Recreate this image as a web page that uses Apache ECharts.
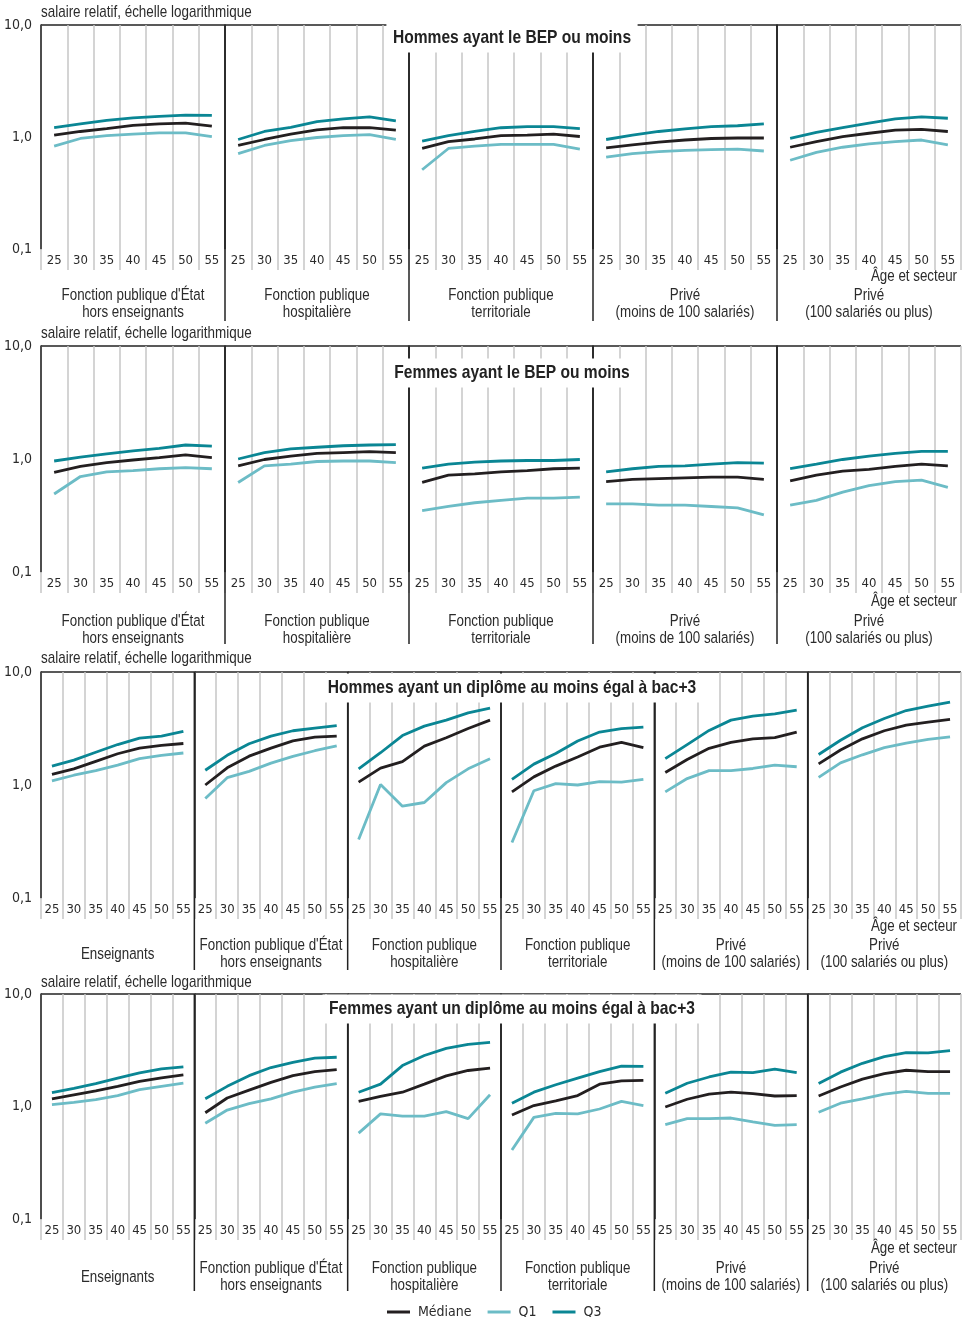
<!DOCTYPE html>
<html><head><meta charset="utf-8">
<script src="https://cdn.jsdelivr.net/npm/echarts@6/dist/echarts.min.js"></script>
<style>html,body{margin:0;padding:0;background:#fff}#c{width:967px;height:1317px}</style>
</head><body><div id="c"></div>
<script>
// ---------- DATA ----------
const ages = ['25','30','35','40','45','50','55'];
const sectorsBep = ["Fonction publique d'État\nhors enseignants","Fonction publique\nhospitalière","Fonction publique\nterritoriale","Privé\n(moins de 100 salariés)","Privé\n(100 salariés ou plus)"];
const sectorsBac3 = ["Enseignants","Fonction publique d'État\nhors enseignants","Fonction publique\nhospitalière","Fonction publique\nterritoriale","Privé\n(moins de 100 salariés)","Privé\n(100 salariés ou plus)"];
const panelTitles = ["Hommes ayant le BEP ou moins","Femmes ayant le BEP ou moins","Hommes ayant un diplôme au moins égal à bac+3","Femmes ayant un diplôme au moins égal à bac+3"];
const seriesNames = ['Médiane', 'Q1', 'Q3'];

// Hommes, BEP ou moins (one row per sector, values at ages 25..55)
const hBepQ1  = [[0.83,0.97,1.03,1.06,1.09,1.09,1.01],[0.71,0.84,0.93,0.99,1.03,1.05,0.95],[0.51,0.79,0.83,0.86,0.86,0.86,0.78],[0.66,0.71,0.74,0.76,0.77,0.78,0.75],[0.62,0.73,0.81,0.87,0.91,0.94,0.85]];
const hBepMed = [[1.04,1.12,1.19,1.27,1.31,1.33,1.25],[0.84,0.95,1.06,1.16,1.21,1.21,1.15],[0.79,0.91,0.96,1.03,1.04,1.06,1.01],[0.80,0.85,0.90,0.94,0.97,0.98,0.98],[0.81,0.91,1.01,1.08,1.15,1.17,1.12]];
const hBepQ3  = [[1.21,1.31,1.41,1.48,1.53,1.57,1.56],[0.95,1.12,1.22,1.37,1.45,1.51,1.39],[0.92,1.03,1.12,1.21,1.24,1.24,1.19],[0.95,1.04,1.12,1.18,1.24,1.26,1.31],[0.97,1.10,1.21,1.33,1.45,1.51,1.47]];
// Femmes, BEP ou moins
const fBepQ1  = [[0.49,0.70,0.77,0.79,0.82,0.84,0.82],[0.62,0.87,0.90,0.95,0.96,0.96,0.93],[0.35,0.38,0.41,0.43,0.45,0.45,0.46],[0.40,0.40,0.39,0.39,0.38,0.37,0.32],[0.39,0.43,0.51,0.58,0.63,0.65,0.56]];
const fBepMed = [[0.76,0.86,0.93,0.98,1.03,1.09,1.03],[0.87,0.99,1.06,1.12,1.14,1.16,1.14],[0.62,0.72,0.74,0.77,0.79,0.82,0.83],[0.63,0.66,0.67,0.68,0.69,0.69,0.66],[0.64,0.72,0.78,0.81,0.86,0.90,0.87]];
const fBepQ3  = [[0.96,1.04,1.11,1.18,1.24,1.33,1.30],[1.00,1.14,1.23,1.27,1.31,1.33,1.34],[0.83,0.90,0.94,0.96,0.97,0.97,0.99],[0.77,0.82,0.86,0.87,0.90,0.93,0.92],[0.82,0.90,0.99,1.06,1.12,1.17,1.17]];
// Hommes, bac+3 ou plus
const hBac3Q1  = [[1.09,1.22,1.34,1.50,1.71,1.83,1.92],[0.76,1.16,1.32,1.56,1.79,2.01,2.22],[0.33,1.01,0.65,0.70,1.05,1.39,1.71],[0.31,0.89,1.03,1.00,1.07,1.06,1.12],[0.87,1.14,1.34,1.34,1.40,1.50,1.45],[1.17,1.57,1.85,2.14,2.35,2.53,2.67]];
const hBac3Med = [[1.24,1.39,1.62,1.89,2.12,2.24,2.33],[1.00,1.42,1.80,2.12,2.46,2.65,2.71],[1.06,1.41,1.61,2.21,2.62,3.16,3.75],[0.87,1.18,1.47,1.77,2.16,2.38,2.14],[1.29,1.68,2.11,2.38,2.56,2.63,2.94],[1.54,2.04,2.56,3.02,3.38,3.60,3.80]];
const hBac3Q3  = [[1.47,1.66,1.95,2.28,2.60,2.71,2.98],[1.35,1.83,2.32,2.71,3.02,3.19,3.36],[1.39,1.93,2.74,3.32,3.75,4.35,4.78],[1.12,1.53,1.90,2.45,2.94,3.16,3.25],[1.71,2.28,3.04,3.75,4.07,4.26,4.59],[1.86,2.49,3.21,3.88,4.56,4.98,5.41]];
// Femmes, bac+3 ou plus
const fBac3Q1  = [[1.04,1.09,1.15,1.25,1.41,1.51,1.61],[0.71,0.93,1.06,1.17,1.34,1.49,1.60],[0.58,0.86,0.82,0.82,0.90,0.78,1.27],[0.41,0.80,0.87,0.86,0.95,1.11,1.02],[0.69,0.78,0.78,0.79,0.73,0.68,0.69],[0.89,1.07,1.17,1.29,1.36,1.31,1.31]];
const fBac3Med = [[1.17,1.27,1.38,1.51,1.67,1.80,1.91],[0.88,1.19,1.40,1.64,1.88,2.04,2.13],[1.11,1.23,1.34,1.58,1.87,2.09,2.19],[0.84,1.02,1.12,1.25,1.58,1.69,1.71],[0.99,1.16,1.29,1.34,1.30,1.24,1.25],[1.24,1.49,1.75,1.96,2.10,2.04,2.04]];
const fBac3Q3  = [[1.33,1.45,1.60,1.79,1.99,2.16,2.25],[1.17,1.51,1.88,2.22,2.47,2.69,2.74],[1.34,1.58,2.31,2.84,3.29,3.57,3.72],[1.07,1.34,1.56,1.79,2.04,2.28,2.27],[1.31,1.61,1.83,2.02,2.00,2.15,2.00],[1.60,2.02,2.42,2.78,3.01,3.00,3.14]];

// ---------- LAYOUT / STYLE ----------
const NARROW = "'Liberation Sans','Arial',sans-serif";   // drawn with scaleX to mimic a condensed face
const SQ = 0.82;
const AXF = "'DejaVu Sans Condensed','DejaVu Sans',sans-serif";
const C_MED = '#231f20', C_Q1 = '#6cbcc6', C_Q3 = '#0a8694', C_GRID = '#c6c6c6', C_TXT = '#2b2b2b';
const panels = [
  {sectors: sectorsBep,  q1: hBepQ1,  med: hBepMed,  q3: hBepQ3,  top: 25,  bottom: 249,  yName: 12,  titleY: 38,   ageY: 277,  nameY: 304.5},
  {sectors: sectorsBep,  q1: fBepQ1,  med: fBepMed,  q3: fBepQ3,  top: 346, bottom: 572,  yName: 333, titleY: 373,  ageY: 602,  nameY: 630.5},
  {sectors: sectorsBac3, q1: hBac3Q1, med: hBac3Med, q3: hBac3Q3, top: 672, bottom: 898,  yName: 658, titleY: 688,  ageY: 927,  nameY: 954.5},
  {sectors: sectorsBac3, q1: fBac3Q1, med: fBac3Med, q3: fBac3Q3, top: 994, bottom: 1219, yName: 982, titleY: 1009, ageY: 1249, nameY: 1277.5}
];
const X0 = 41, X1 = 961;

function txt(x, y, text, size, align, opts) {
  return Object.assign({type: 'text', z: 100, x: x, y: y, scaleX: SQ, scaleY: 1,
    style: {text: text, font: size + 'px ' + NARROW, fill: C_TXT, lineHeight: 17,
            align: align, verticalAlign: 'middle', textAlign: align, textVerticalAlign: 'middle'}}, opts || {});
}

const grid = [], xAxis = [], yAxis = [], series = [], graphic = [];
let g = 0;
panels.forEach((p, pi) => {
  const n = p.sectors.length;
  const w = (X1 - X0) / n;
  for (let s = 0; s < n; s++) {
    const left = X0 + w * s;
    grid.push({left: left, top: p.top, width: w, height: p.bottom - p.top, containLabel: false, outerBoundsMode: 'none'});
    xAxis.push({
      type: 'category', gridIndex: g, data: ages, boundaryGap: true,
      axisLine: {show: false},
      axisTick: {show: true, length: 21, interval: 0, lineStyle: {color: C_GRID, width: 1.5}},
      axisLabel: {interval: 0, margin: 5, fontFamily: AXF, fontSize: 13, color: C_TXT},
      splitLine: {show: true, interval: 0, lineStyle: {color: C_GRID, width: 1.5}}
    });
    yAxis.push({
      type: 'log', logBase: 10, gridIndex: g, min: 0.1, max: 10,
      axisLine: {show: true, lineStyle: {color: '#222', width: 1.5}},
      axisTick: {show: false},
      axisLabel: {show: s === 0, margin: 9, fontFamily: AXF, fontSize: 14, color: C_TXT,
                  formatter: v => Number(v).toFixed(1).replace('.', ',')},
      splitLine: {show: true, showMinLine: false, lineStyle: {color: ['rgba(0,0,0,0)', '#222', C_GRID], width: 1.5}}
    });
    const base = {type: 'line', xAxisIndex: g, yAxisIndex: g, symbol: 'none', silent: true, animation: false};
    series.push(Object.assign({}, base, {name: seriesNames[1], data: p.q1[s], lineStyle: {color: C_Q1, width: 2.8}, itemStyle: {color: C_Q1}}));
    series.push(Object.assign({}, base, {name: seriesNames[2], data: p.q3[s], lineStyle: {color: C_Q3, width: 2.8}, itemStyle: {color: C_Q3}}));
    series.push(Object.assign({}, base, {name: seriesNames[0], data: p.med[s], lineStyle: {color: C_MED, width: 2.8}, itemStyle: {color: C_MED}}));
    if (s > 0) {
      graphic.push({type: 'line', z: 50, shape: {x1: left, y1: p.top, x2: left, y2: p.bottom + 72},
                    style: {stroke: '#222', lineWidth: 1.5}});
    }
    graphic.push(txt(left + w / 2, p.nameY, p.sectors[s], 16.3, 'center'));
    g++;
  }
  graphic.push(txt(X0, p.yName, 'salaire relatif, échelle logarithmique', 16.4, 'left'));
  graphic.push(txt(957, p.ageY, 'Âge et secteur', 16.3, 'right'));
  graphic.push({type: 'text', z: 100, x: 512, y: p.titleY, scaleX: SQ,
    style: {text: panelTitles[pi], font: 'bold 19px ' + NARROW, fill: '#222',
            align: 'center', verticalAlign: 'middle', textAlign: 'center', textVerticalAlign: 'middle',
            backgroundColor: '#fff', padding: [5, 8, 5, 8]}});
});

const chart = echarts.init(document.getElementById('c'), null, {renderer: 'canvas'});
chart.setOption({
  animation: false,
  backgroundColor: '#fff',
  grid: grid, xAxis: xAxis, yAxis: yAxis, series: series, graphic: graphic,
  legend: {
    data: seriesNames, left: 382, top: 1300, icon: 'rect', itemWidth: 23, itemHeight: 3, itemGap: 16,
    selectedMode: false, textStyle: {fontFamily: AXF, fontSize: 14, color: C_TXT, padding: [0, 0, 0, 3]}
  }
});
</script></body></html>
